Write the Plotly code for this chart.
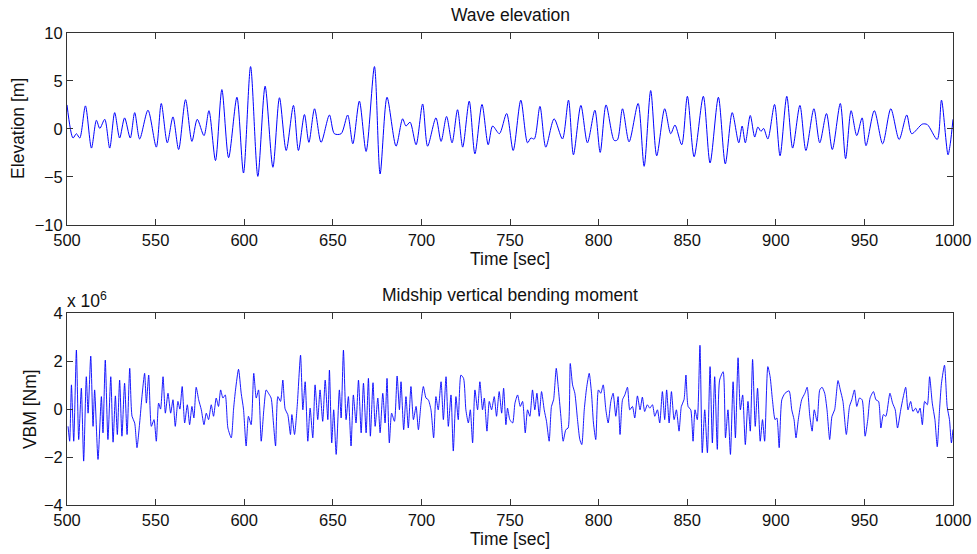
import plotly.graph_objects as go

# ---- Wave elevation (time [s], elevation [m]) ----
wave_t = [500.0, 503.4, 505.3, 507.2, 510.4, 513.8, 516.6, 518.5, 521.3, 524.1, 526.9, 529.7, 532.5, 535.7,
          538.2, 541.0, 545.7, 550.4, 553.2, 556.6, 559.8, 563.0, 566.9, 570.5, 573.5, 577.3, 580.1, 583.8,
          587.4, 591.2, 595.9, 599.6, 603.6, 607.7, 611.8, 616.2, 619.9, 623.7, 627.8, 630.6, 634.0, 636.5,
          639.7, 643.4, 648.1, 650.9, 654.7, 658.4, 661.3, 665.0, 668.8, 673.5, 676.7, 680.6, 685.7, 689.4,
          691.3, 693.6, 697.0, 700.7, 703.5, 708.2, 711.1, 714.2, 717.3, 720.4, 723.3, 727.0, 730.2, 734.2,
          737.7, 740.2, 744.0, 748.1, 751.8, 756.1, 759.9, 761.8, 763.7, 766.9, 770.2, 774.9, 779.6, 783.0,
          785.8, 790.0, 793.7, 797.9, 800.9, 804.2, 808.8, 810.6, 813.5, 817.2, 822.3, 825.7, 829.4, 832.8,
          837.3, 840.7, 843.1, 846.9, 850.1, 853.9, 859.1, 862.9, 867.6, 871.5, 875.4, 879.1, 881.0, 882.8,
          885.6, 888.1, 889.9, 891.6, 893.1, 895.5, 899.3, 902.4, 906.2, 909.5, 913.6, 917.0, 921.5, 924.8,
          928.6, 931.9, 936.4, 939.4, 942.5, 945.7, 948.7, 950.9, 955.6, 960.3, 964.9, 969.6, 973.9, 976.7,
          982.7, 985.5, 991.1, 993.5, 997.2, 998.5, 1000.0]
wave_v = [2.5, -0.95, -0.5, -0.95, 2.4, -2.0, 0.9, 0.05, 1.0, -2.0, 1.7, -0.95, 1.15, -0.95,
          1.7, -1.05, 1.95, -1.9, 2.65, -1.45, 1.25, -2.15, 3.05, -1.3, 1.0, -0.7, 1.9, -3.3,
          4.1, -3.0, 3.3, -4.6, 6.5, -4.95, 4.45, -4.0, 3.25, -2.25, 2.45, -2.25, 1.5, -1.4,
          2.1, -1.4, 1.45, -0.5, -0.5, 1.45, -1.55, 2.9, -2.35, 6.5, -4.7, 3.3, -1.8, 1.05,
          0.3, 0.7, -1.65, 2.6, -1.8, 1.15, -1.3, 1.3, -1.45, 2.0, -1.9, 2.9, -2.6, 2.55,
          -1.65, 0.3, -0.5, 1.6, -2.25, 3.0, -1.45, -0.95, -1.05, 2.35, -1.9, 1.05, -1.05, 3.0,
          -2.7, 2.45, -1.45, 1.95, -2.45, 2.5, -1.2, -1.15, 2.1, -1.35, 2.65, -3.9, 4.0, -2.8,
          2.1, -0.5, 0.4, -1.65, 3.4, -2.9, 3.4, -3.55, 3.3, -3.65, 1.7, -1.45, 0.3, -1.45,
          1.4, -0.85, 0.2, -0.25, 0.05, -1.05, 2.55, -2.8, 3.4, -2.0, 2.45, -2.25, 2.1, -1.45,
          1.6, -2.15, 2.65, -3.1, 1.9, -0.7, 1.15, -1.75, 1.9, -1.55, 2.1, -1.1, 1.45, -0.5,
          0.5, 0.45, -1.1, 3.0, -2.7, -1.5, 1.0]

# ---- Midship VBM (time [s], moment in units of 1e6 Nm) ----
vbm_t = [500.6, 501.5, 502.5, 503.8, 505.3, 506.6, 508.1, 509.4, 510.9, 511.9, 513.4, 514.7, 515.6, 517.5,
         519.4, 520.3, 521.6, 523.1, 524.7, 526.0, 527.3, 528.4, 529.7, 531.0, 532.5, 533.9, 535.4, 536.7,
         538.2, 539.5, 541.0, 542.3, 543.8, 544.8, 546.1, 547.6, 549.1, 550.4, 551.7, 552.8, 554.2, 555.5,
         557.0, 558.5, 559.8, 561.1, 562.6, 563.7, 565.0, 566.4, 567.9, 569.2, 570.5, 571.6, 572.9, 574.3,
         575.8, 577.3, 578.6, 579.9, 581.4, 582.7, 584.2, 585.5, 586.7, 588.0, 589.3, 590.8, 592.7, 594.0,
         595.1, 596.8, 598.3, 599.6, 601.1, 602.4, 603.9, 605.4, 606.8, 608.1, 609.6, 611.1, 612.4, 613.7,
         615.2, 616.5, 617.7, 619.0, 620.5, 621.8, 623.1, 624.6, 626.1,
         626.9, 628.4, 629.9, 631.8, 633.1, 634.4, 635.9, 637.2, 638.7, 640.0, 641.5, 642.8, 644.3, 645.7,
         647.2, 648.1, 649.4, 650.5, 651.9, 653.7, 654.7, 656.0, 657.5, 658.8, 660.3, 661.6, 663.1, 664.5,
         666.0, 667.3, 668.8, 670.1, 671.2, 672.7, 673.9, 675.4, 676.7, 678.2, 679.5, 680.6, 681.9, 683.2,
         684.8, 686.3, 687.6, 688.5, 690.0, 691.3, 692.6, 694.1, 695.5, 697.0, 698.3, 699.8, 701.1, 702.6,
         703.9, 705.4, 706.9, 708.2, 709.5, 711.1, 712.4, 713.9, 715.2, 716.7, 718.0, 719.5, 720.8, 722.3,
         723.8, 725.1, 726.5, 727.6, 728.9, 730.2, 731.7, 733.0, 734.5, 735.5, 737.0, 738.3, 739.6, 741.1,
         742.4, 743.9, 745.3,
         746.4, 747.7, 748.6, 749.9, 751.5, 752.8, 754.3, 755.8, 757.1, 758.6, 759.9, 761.2, 762.7, 764.0,
         765.2, 766.5, 767.8, 769.3, 770.6, 772.1, 773.4, 774.6, 776.1, 777.2, 778.7, 780.0, 781.5, 782.8,
         784.0, 785.3, 786.6, 788.1, 789.4, 790.5, 791.9, 793.2, 794.7, 796.0, 797.1, 798.4, 799.9, 801.2,
         802.6, 804.1, 805.4, 806.9, 808.2, 809.7, 811.0, 812.1, 813.5, 814.8, 816.3, 817.6, 819.1, 820.4,
         821.9, 823.4, 824.7, 826.0, 827.5, 828.9, 830.4, 831.7, 833.2, 834.5, 836.0, 837.3, 838.4, 839.8,
         841.1, 842.6, 843.9, 845.4, 846.7, 848.2, 849.3, 850.5, 852.0, 853.3, 854.4, 855.7, 857.2, 858.5,
         859.9, 861.4, 862.9, 864.2, 865.5, 867.0, 868.3,
         870.3, 871.6, 873.0, 874.4, 875.9, 877.2, 878.7, 880.0, 881.3, 882.8, 884.3, 885.6, 886.9, 888.4,
         889.7, 891.2, 892.5, 893.7, 895.5, 896.8, 898.1, 899.6, 900.6, 901.9, 903.4, 905.2, 907.5, 909.0,
         910.3, 911.4, 912.7, 914.6, 916.4, 917.7, 919.2, 920.5, 921.7, 923.3, 924.8, 926.1, 927.6, 928.9,
         930.4, 931.7, 933.2, 935.1, 936.4, 937.9, 939.8, 941.6, 942.9, 944.4, 945.7, 947.2, 948.7, 950.4,
         951.9, 953.2, 955.1, 956.5, 958.0, 959.3, 960.7, 962.1, 964.4, 965.9, 967.4, 968.7, 970.5, 971.8,
         973.3, 974.6, 976.1, 977.4, 978.9, 980.2, 981.4, 982.7, 984.0, 985.5, 986.8, 988.3, 989.8, 991.1,
         992.4, 993.5, 995.2, 996.7, 998.0, 999.1, 1000.0]
vbm_v = [-0.72, -1.34, 1.01, -1.34, 2.46, -1.27, 0.87, -2.17, 1.35, -0.17, 2.21, -0.72, 0.80, -2.10,
         0.52, -0.99, 2.04, -1.27, 1.35, -1.38, 0.55, -1.06, 1.21, -1.13, 1.08, -1.06, 1.70, -0.30,
         -0.58, -1.61, -0.58, 0.52, 1.49, 0.25, 1.42, -0.72, -0.44, -1.34, 0.25, 0.00, 1.35, -0.17,
         0.66, -0.17, 0.39, -0.72, 0.32, 0.00, 0.94, -0.58, 0.18, -0.65, 0.11, -0.37, 0.91, 0.39,
         -0.03, -0.65, -0.17, -0.44, 0.18, -0.30, 0.46, 0.11, 0.80, 0.46, 0.59, -0.79, -1.20, 0.00,
         0.80, 1.66, 0.66, 0.00, -1.54, -0.30, -0.65, 1.49, 0.46, 0.80, -1.34, 0.00, 0.80, 0.66,
         0.46, -0.58, -1.54, 0.52, 0.32, 1.21, 0.00, -0.23, -1.06,
         -0.23, -1.06, 0.11, 2.25, -0.03, 1.14, -1.34, 0.04, -1.20, 1.01, -0.44, 0.80, -0.51, 1.21,
         -0.44, 1.63, -1.41, -0.03, -1.89, 0.80, -0.37, 2.46, -0.44, 0.52, -1.54, 0.59, -0.58, 1.21,
         -0.99, 1.08, -0.99, 1.28, -1.13, 1.10, -0.72, 0.46, -0.99, 0.66, -0.58, 1.28, -1.41, -0.17,
         -0.51, 1.38, -0.03, 1.14, -0.86, 0.52, -0.79, 0.94, -0.44, 0.11, -0.86, 0.25, 0.94, 0.46,
         0.39, -0.03, -1.20, 0.52, -0.03, 1.14, -0.44, 1.35, -0.72, 0.59, -1.75, 0.52, -0.44, 1.42,
         1.28, -0.03, -0.58, -0.03, -1.41, 0.80, -0.03, 1.14, -0.03, 0.46, -0.92, 0.32, -0.03, 0.52,
         -0.30, 0.73, -0.17,
         0.87, -0.65, 0.04, -0.44, -0.58, 0.25, 0.59, 0.11, 0.32, -0.99, -0.03, -0.30, 0.80, -0.03,
         0.66, -0.30, 0.73, -0.03, -0.51, -1.34, 0.11, 0.39, 1.70, 0.94, -0.30, -1.34, -0.86, -0.79,
         1.90, 1.01, 0.66, -0.44, -1.27, -1.48, -0.03, 0.87, 1.49, 0.66, -0.58, -1.27, 0.80, 0.66,
         1.01, -0.03, -0.58, 0.32, 0.66, -0.30, 0.52, -1.06, 0.39, 0.59, 0.91, -0.03, 0.11, -0.37,
         0.55, -0.03, 0.50, -0.10, 0.18, 0.04, 0.18, -0.30, -0.03, -0.58, 0.73, -0.44, 0.80, -0.58,
         0.73, -0.44, -0.03, -0.92, 0.11, 0.39, 1.42, 0.11, -0.03, -1.34, -0.03, -0.44, 2.66, -1.82,
         -0.03, -1.82, 1.77, -1.41, 1.35, -1.68, 1.21,
         1.56, -1.20, -0.03, -1.89, 1.14, -1.20, 2.14, -0.03, 0.59, -1.48, 0.32, -0.92, 2.07, -0.72,
         0.87, -1.34, -0.44, -1.34, 1.77, 1.35, 0.39, -0.44, -0.37, -1.61, 0.39, 0.66, 0.76, -0.03,
         -0.44, -1.20, -0.44, 0.39, 0.66, 0.91, -0.30, -0.92, -0.03, -0.51, 0.80, 0.91, 0.66, -0.03,
         -1.27, -0.30, -0.03, 1.19, 0.80, 0.32, -1.06, 0.11, 0.39, 0.80, 0.11, 0.46, 0.39, -1.13,
         -0.44, 0.46, 0.73, 0.39, 0.32, -0.79, -0.23, -0.30, 0.66, 0.25, -0.03, -0.79, -0.03, 0.46,
         0.91, -0.03, 0.32, -0.10, 0.04, -0.17, 0.04, -0.65, 0.32, 0.18, 1.35, 0.25, -0.44, -1.57,
         -0.03, 1.08, 1.83, 0.11, -0.44, -1.41, -0.85]

x_ticks = [500, 550, 600, 650, 700, 750, 800, 850, 900, 950, 1000]
wave_yticks = [-10, -5, 0, 5, 10]
vbm_yticks = [-4, -2, 0, 2, 4]

FONT = "Liberation Sans, Arial, Helvetica, sans-serif"
BLUE = "#0000ff"
TICK_SIZE = 16.5
LABEL_SIZE = 17.5
TOP_DOMAIN = [0.5936, 1]
BOT_DOMAIN = [0, 0.4064]

fig = go.Figure()
fig.add_trace(go.Scatter(x=wave_t, y=wave_v, mode="lines", line=dict(color=BLUE, width=1, shape="spline", smoothing=0.8),
                         xaxis="x", yaxis="y", showlegend=False))
fig.add_trace(go.Scatter(x=vbm_t, y=vbm_v, mode="lines", line=dict(color=BLUE, width=0.9, shape="spline", smoothing=0.6),
                         xaxis="x2", yaxis="y2", showlegend=False))

ax_common = dict(showline=True, linecolor="#333", linewidth=1, mirror="ticks", ticks="inside", ticklen=6,
                 tickcolor="#333", showgrid=False, zeroline=False, automargin=False,
                 tickfont=dict(family=FONT, size=TICK_SIZE, color="#111"))

fig.update_layout(
    width=977, height=554,
    margin=dict(l=67, r=24, t=33, b=49),
    paper_bgcolor="white", plot_bgcolor="white",
    font=dict(family=FONT, size=LABEL_SIZE, color="#111"),
    xaxis=dict(domain=[0, 1], anchor="y", range=[500, 1000], tickvals=x_ticks,
               title=dict(text="Time [sec]", standoff=0, font=dict(size=LABEL_SIZE)), **ax_common),
    yaxis=dict(domain=TOP_DOMAIN, anchor="x", range=[-10, 10], tickvals=wave_yticks, **ax_common),
    xaxis2=dict(domain=[0, 1], anchor="y2", range=[500, 1000], tickvals=x_ticks,
                title=dict(text="Time [sec]", standoff=2, font=dict(size=LABEL_SIZE)), **ax_common),
    yaxis2=dict(domain=BOT_DOMAIN, anchor="x2", range=[-4, 4], tickvals=vbm_yticks, **ax_common),
    annotations=[
        dict(text="Wave elevation", x=0.5, y=TOP_DOMAIN[1], xref="paper", yref="paper", xanchor="center",
             yanchor="bottom", yshift=6, showarrow=False, font=dict(size=LABEL_SIZE)),
        dict(text="Midship vertical bending moment", x=0.5, y=BOT_DOMAIN[1], xref="paper", yref="paper",
             xanchor="center", yanchor="bottom", yshift=6, showarrow=False, font=dict(size=LABEL_SIZE)),
        dict(text="x 10<sup>6</sup>", x=0, y=BOT_DOMAIN[1], xref="paper", yref="paper", xanchor="left",
             yanchor="bottom", yshift=0, xshift=-2, showarrow=False, font=dict(size=LABEL_SIZE)),
        dict(text="Elevation [m]", x=0, y=sum(TOP_DOMAIN) / 2, xref="paper", yref="paper", xanchor="center",
             yanchor="middle", xshift=-49, textangle=-90, showarrow=False, font=dict(size=LABEL_SIZE)),
        dict(text="VBM [Nm]", x=0, y=sum(BOT_DOMAIN) / 2, xref="paper", yref="paper", xanchor="center",
             yanchor="middle", xshift=-37, textangle=-90, showarrow=False, font=dict(size=LABEL_SIZE)),
    ],
)

fig.write_html("out.html")
